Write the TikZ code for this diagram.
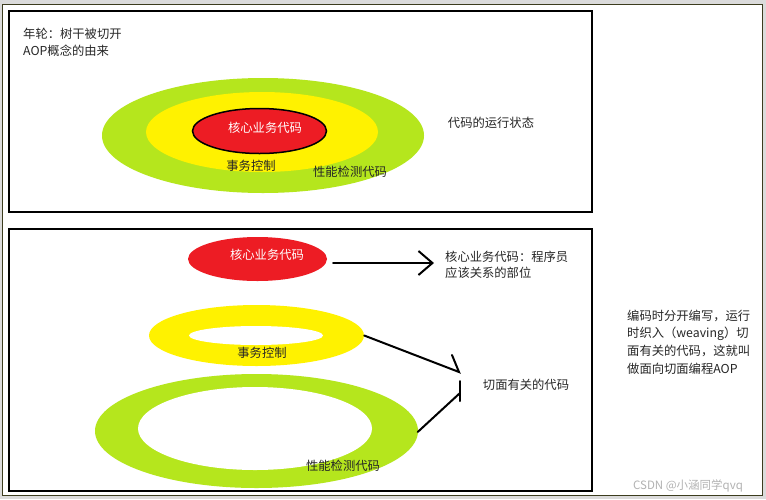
\documentclass[tikz,border=0pt]{standalone}
\usepackage{fontspec}
\setmainfont{Noto Sans CJK SC}
\usetikzlibrary{shapes.geometric,arrows.meta}
\definecolor{lime}{HTML}{B5E61D}
\definecolor{yel}{HTML}{FFF200}
\definecolor{rd}{HTML}{ED1C24}
\definecolor{olive}{HTML}{3C3C1E}
\tikzset{
  ell/.style={ellipse, inner sep=0pt, draw=none},
  lbl/.style={inner sep=0pt, font=\fontsize{12.3}{16}\selectfont, text=black!85},
  frame/.style={draw=black, line width=2.4pt},
  conn/.style={draw=black, line width=2pt, line cap=round},
}
\begin{document}
\begin{tikzpicture}[x=1pt,y=-1pt]
\useasboundingbox (0,0) rectangle (766,499);
\fill[black!14] (0,0) rectangle (766,499);
\draw[fill=white, draw=olive, line width=1pt] (2.5,4) rectangle (762.5,495);
% frames
\draw[frame] (9,11) rectangle (592,212);
\draw[frame] (9,229) rectangle (592,491);
% top tree rings
\node[ell, fill=lime, minimum width=322, minimum height=115] (g1) at (263,135.5) {};
\node[ell, fill=yel, minimum width=232, minimum height=80] (y1) at (262,132) {};
\node[ell, fill=rd, draw=black, line width=1.5pt, minimum width=134, minimum height=45] (r1) at (259.5,131) {};
\node[lbl, text=white] (r1t) at (265,128) {核心业务代码};
\node[lbl] (y1t) at (251,166) {事务控制};
\node[lbl] (g1t) at (350,172) {性能检测代码};
\node[lbl, anchor=west] (t1) at (23,34) {年轮：树干被切开};
\node[lbl, anchor=west] (t2) at (23,51) {AOP概念的由来};
\node[lbl] (state) at (491,123) {代码的运行状态};
% bottom: separated parts
\node[ell, fill=rd, minimum width=139, minimum height=44] (r2) at (257.5,259) {};
\node[lbl, text=white] (r2t) at (267,255) {核心业务代码};
\node[ell, fill=yel, minimum width=215, minimum height=61] (y2) at (256.5,335.5) {};
\node[ell, fill=white, minimum width=134, minimum height=19] (y2i) at (256,335.5) {};
\node[lbl] (y2t) at (262,353) {事务控制};
\node[ell, fill=lime, minimum width=323, minimum height=114] (g2) at (256.5,431) {};
\node[ell, fill=white, minimum width=234, minimum height=83] (g2i) at (255,428.5) {};
\node[lbl] (g2t) at (343,466) {性能检测代码};
\node[lbl, anchor=west, align=left] (core) at (445,265) {核心业务代码：程序员\\应该关系的部位};
\node[lbl] (aspect) at (526,385) {切面有关的代码};
\node[lbl, anchor=west, align=left, font=\fontsize{12.3}{17.7}\selectfont] (note) at (627,342) {编码时分开编写，运行\\时织入（weaving）切\\面有关的代码，这就叫\\做面向切面编程AOP};
\node[inner sep=0pt, font=\fontsize{11.5}{14}\selectfont, text=black!30] (wm) at (688,486) {CSDN @小涵同学qvq};
% connectors
\coordinate (a1) at (434,263);
\coordinate (a2) at (459,372);
\coordinate (a3) at (460,393);
\draw[conn, -{Straight Barb[length=14pt, width=24pt, line width=2pt]}] ([xshift=6pt,yshift=-4pt]r2.east) -- (a1);
\draw[conn] (y2.east) -- (a2) -- ++(-7,-17);
\draw[conn] ([xshift=-0.5pt,yshift=-1pt]g2.east) -- (a3);
\draw[conn] ([yshift=-8pt]a3) -- ([yshift=12pt]a3);
\end{tikzpicture}
\end{document}
